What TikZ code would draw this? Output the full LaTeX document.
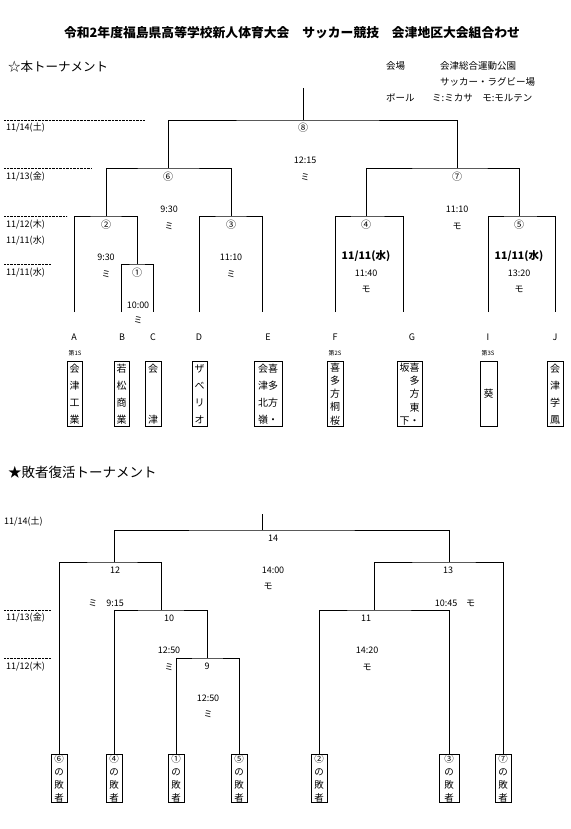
\documentclass[tikz,border=0pt]{standalone}
\usepackage{fontspec}
\setmainfont{Noto Sans CJK JP}
\usetikzlibrary{positioning}
\tikzset{
  lbl/.style={font=\fontsize{9}{10}\selectfont, inner sep=0pt},
  maru/.style={font=\fontsize{10}{11}\selectfont, inner sep=0pt},
  hizuke/.style={lbl, anchor=west},
  info/.style={font=\fontsize{9.5}{10}\selectfont, inner sep=0pt, anchor=west},
  kugiri/.style={line width=0.6pt, dash pattern=on 0.7pt off 0.7pt},
  waku/.style={line width=0.9pt},
  team/.style={draw, line width=0.8pt, anchor=north, inner sep=0pt, minimum width=15pt,
    minimum height=65pt, align=center, font=\fontsize{10}{17}\selectfont},
  team5/.style={team, font=\fontsize{10}{13.3}\selectfont},
  haisha/.style={draw, line width=0.8pt, anchor=north, inner sep=0pt, minimum width=16pt,
    minimum height=48pt, align=center, font=\fontsize{9.5}{12.7}\selectfont},
}

\begin{document}
\begin{tikzpicture}[x=1pt,y=-1pt]
	\useasboundingbox (0,0) rectangle (570,829);

	% header
	\node[font=\fontsize{12.8}{14}\selectfont\bfseries] (title) at (292,33) {令和2年度福島県高等学校新人体育大会　サッカー競技　会津地区大会組合わせ};
	\node[font=\fontsize{12.5}{14}\selectfont, anchor=west, inner sep=0pt] (hon) at (8,67) {☆本トーナメント};
	\node[info] (kaijo) at (386,66) {会場};
	\node[info] (kaijo1) at (440,66) {会津総合運動公園};
	\node[info] (kaijo2) at (440,82) {サッカー・ラグビー場};
	\node[info] (ball) at (386,98) {ボール};
	\node[info] (ball1) at (432,98) {ミ:ミカサ　モ:モルテン};

	% dates (main)
	\draw[kugiri] (4,120) -- (145,120);
	\draw[kugiri] (4,168) -- (91,168);
	\draw[kugiri] (4,216) -- (67,216);
	\draw[kugiri] (4,264) -- (51,264);
	\node[hizuke] (d14) at (6,128) {11/14(土)};
	\node[hizuke] (d13) at (6,177) {11/13(金)};
	\node[hizuke] (d12) at (6,225) {11/12(木)};
	\node[hizuke] (d11a) at (6,241) {11/11(水)};
	\node[hizuke] (d11b) at (6,273) {11/11(水)};

	% main bracket
	\coordinate (top8) at (303,88);
	\coordinate (m8) at (303,120);
	\coordinate (m6) at (168,168);
	\coordinate (m7) at (457,168);
	\coordinate (m2) at (106,216);
	\coordinate (m3) at (231,216);
	\coordinate (m4) at (366,216);
	\coordinate (m5) at (519,216);
	\coordinate (m1) at (137,264);
	\coordinate (a) at (74,312);
	\coordinate (b) at (121,312);
	\coordinate (c) at (153,312);
	\coordinate (d) at (199,312);
	\coordinate (e) at (262,312);
	\coordinate (f) at (335,312);
	\coordinate (g) at (403,312);
	\coordinate (i) at (488,312);
	\coordinate (j) at (555,312);

	\draw[waku] (top8) -- (m8);
	\draw[waku] (m6) |- (m8) -| (m7);
	\draw[waku] (m2) |- (m6) -| (m3);
	\draw[waku] (m4) |- (m7) -| (m5);
	\draw[waku] (a) |- (m2) -| (m1);
	\draw[waku] (b) |- (m1) -| (c);
	\draw[waku] (d) |- (m3) -| (e);
	\draw[waku] (f) |- (m4) -| (g);
	\draw[waku] (i) |- (m5) -| (j);

	\node[maru] (n8) at (303,128) {⑧};
	\node[lbl] (t8) at (305,160) {12:15};
	\node[lbl] (b8) at (305,177) {ミ};
	\node[maru] (n6) at (168,177) {⑥};
	\node[lbl] (t6) at (169,209) {9:30};
	\node[lbl] (b6) at (169,226) {ミ};
	\node[maru] (n7) at (457,177) {⑦};
	\node[lbl] (t7) at (457,209) {11:10};
	\node[lbl] (b7) at (457,226) {モ};
	\node[maru] (n2) at (106,225) {②};
	\node[lbl] (t2) at (106,257) {9:30};
	\node[lbl] (b2) at (106,274) {ミ};
	\node[maru] (n1) at (137,273) {①};
	\node[lbl] (t1) at (138,305) {10:00};
	\node[lbl] (b1) at (138,320) {ミ};
	\node[maru] (n3) at (231,225) {③};
	\node[lbl] (t3) at (231,257) {11:10};
	\node[lbl] (b3) at (231,274) {ミ};
	\node[maru] (n4) at (366,225) {④};
	\node[lbl, font=\fontsize{10.5}{11}\selectfont\bfseries] (d4) at (366,256) {11/11(水)};
	\node[lbl] (t4) at (366,273) {11:40};
	\node[lbl] (b4) at (366,289) {モ};
	\node[maru] (n5) at (519,225) {⑤};
	\node[lbl, font=\fontsize{10.5}{11}\selectfont\bfseries] (d5) at (519,256) {11/11(水)};
	\node[lbl] (t5) at (519,273) {13:20};
	\node[lbl] (b5) at (519,289) {モ};

	% teams
	\node[lbl] (lA) at (74,337) {A};
	\node[lbl] (lB) at (122,337) {B};
	\node[lbl] (lC) at (153,337) {C};
	\node[lbl] (lD) at (199,337) {D};
	\node[lbl] (lE) at (268,337) {E};
	\node[lbl] (lF) at (335,337) {F};
	\node[lbl] (lG) at (412,337) {G};
	\node[lbl] (lI) at (488,337) {I};
	\node[lbl] (lJ) at (555,337) {J};
	\node[lbl, font=\fontsize{6}{7}\selectfont] (s1) at (75,353) {第1S};
	\node[lbl, font=\fontsize{6}{7}\selectfont] (s2) at (335,353) {第2S};
	\node[lbl, font=\fontsize{6}{7}\selectfont] (s3) at (488,353) {第3S};

	\node[team] (tmA) at (74.5,361) {会\\津\\工\\業};
	\node[team] (tmB) at (121.5,361) {若\\松\\商\\業};
	\node[team, minimum width=16pt] (tmC) at (153,361) {会\\[34pt]津};
	\node[team] (tmD) at (199.5,361) {ザ\\ベ\\リ\\オ};
	\node[team, minimum width=28pt] (tmE) at (268,361) {会喜\\津多\\北方\\嶺・};
	\node[team5, minimum width=16pt] (tmF) at (335,361) {喜\\多\\方\\桐\\桜};
	\node[team5, minimum width=25pt] (tmG) at (409.5,361) {坂喜\\　多\\　方\\　東\\下・};
	\node[team, minimum width=17pt] (tmI) at (488.5,361) {葵};
	\node[team, minimum width=16pt] (tmJ) at (555,361) {会\\津\\学\\鳳};

	% loser bracket
	\node[font=\fontsize{13.5}{15}\selectfont, anchor=west, inner sep=0pt] (fukkatsu) at (8,472) {★敗者復活トーナメント};
	\node[hizuke] (e14) at (4,522) {11/14(土)};
	\draw[kugiri] (4,610) -- (51,610);
	\draw[kugiri] (4,658) -- (51,658);
	\node[hizuke] (e13) at (6,618) {11/13(金)};
	\node[hizuke] (e12) at (6,667) {11/12(木)};

	\node[haisha] (h6) at (59,754) {⑥\\の\\敗\\者};
	\node[haisha] (h4) at (114,754) {④\\の\\敗\\者};
	\node[haisha] (h1) at (176,754) {①\\の\\敗\\者};
	\node[haisha] (h5) at (239,754) {⑤\\の\\敗\\者};
	\node[haisha] (h2) at (319,754) {②\\の\\敗\\者};
	\node[haisha, minimum width=20pt] (h3) at (449,754) {③\\の\\敗\\者};
	\node[haisha] (h7) at (503,754) {⑦\\の\\敗\\者};

	\coordinate (top14) at (262,514);
	\coordinate (k14) at (262,530);
	\coordinate (k12) at (114,562);
	\coordinate (k13) at (449,562);
	\coordinate (k10) at (161,610);
	\coordinate (k11) at (374,610);
	\coordinate (k9) at (207,658);

	\draw[waku] (top14) -- (k14);
	\draw[waku] (k12) |- (k14) -| (k13);
	\draw[waku] (h6.north) |- (k12) -| (k10);
	\draw[waku] (h4.north) |- (k10) -| (k9);
	\draw[waku] (h1.north) |- (k9) -| (h5.north);
	\draw[waku] (k11) |- (k13) -| (h7.north);
	\draw[waku] (h2.north) |- (k11) -| (h3.north);

	\node[lbl] (r14) at (273,538) {14};
	\node[lbl] (u14) at (273,570) {14:00};
	\node[lbl] (v14) at (268,586) {モ};
	\node[lbl] (r12) at (115,570) {12};
	\node[lbl] (u12) at (106,603) {ミ　9:15};
	\node[lbl] (r13) at (448,570) {13};
	\node[lbl] (u13) at (455,603) {10:45　モ};
	\node[lbl] (r10) at (169,618) {10};
	\node[lbl] (u10) at (169,650) {12:50};
	\node[lbl] (v10) at (169,667) {ミ};
	\node[lbl] (r11) at (366,618) {11};
	\node[lbl] (u11) at (367,650) {14:20};
	\node[lbl] (v11) at (367,667) {モ};
	\node[lbl] (r9) at (207,666) {9};
	\node[lbl] (u9) at (208,698) {12:50};
	\node[lbl] (v9) at (208,714) {ミ};
\end{tikzpicture}
\end{document}
